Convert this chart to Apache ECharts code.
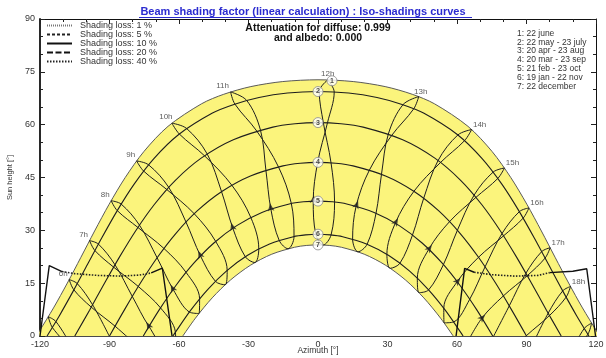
<!DOCTYPE html>
<html>
<head>
<meta charset="utf-8">
<title>Iso-shadings curves</title>
<script src="https://cdn.jsdelivr.net/npm/echarts@6/dist/echarts.min.js"></script>
<style>
  html, body { margin: 0; padding: 0; background: #fff; }
  #chart { width: 606px; height: 358px; }
</style>
</head>
<body>
<div id="chart"></div>
<script>
// axis ticks
const azimuthTicks = [-120, -90, -60, -30, 0, 30, 60, 90, 120]
const heightTicks = [0, 15, 30, 45, 60, 75, 90]

// sun paths [azimuth, height], 1 = 22 june ... 7 = 22 december
const path1 = [[-121.65,0],[-120.42,1.23],[-114.17,7.97],[-108.2,15.03],[-102.34,22.35],[-96.42,29.82],[-90.17,37.39],[-83.26,44.95],[-75.12,52.4],[-64.73,59.53],[-50.29,65.92],[-40.67,68.63],[-28.98,70.81],[-15.2,72.24],[0,72.74],[15.2,72.24],[28.98,70.81],[40.67,68.63],[50.29,65.92],[64.73,59.53],[75.12,52.4],[83.26,44.95],[90.17,37.39],[96.42,29.82],[102.34,22.35],[108.2,15.03],[114.17,7.97],[120.42,1.23],[121.65,0]]
const path2 = [[-116.95,0],[-111.63,5.77],[-105.5,12.95],[-99.47,20.35],[-93.31,27.88],[-86.78,35.46],[-79.51,42.98],[-70.94,50.3],[-60.12,57.2],[-45.56,63.29],[-36.29,65.74],[-25.46,67.7],[-13.18,68.97],[0,69.4],[13.18,68.97],[25.46,67.7],[36.29,65.74],[45.56,63.29],[60.12,57.2],[70.94,50.3],[79.51,42.98],[86.78,35.46],[93.31,27.88],[99.47,20.35],[105.5,12.95],[111.63,5.77],[116.95,0]]
const path3 = [[-104.98,0],[-98.61,7.34],[-92.23,14.89],[-85.65,22.46],[-78.6,29.97],[-70.74,37.27],[-61.57,44.21],[-50.43,50.5],[-36.55,55.73],[-19.49,59.31],[-9.93,60.27],[0,60.59],[9.93,60.27],[19.49,59.31],[36.55,55.73],[50.43,50.5],[61.57,44.21],[70.74,37.27],[78.6,29.97],[85.65,22.46],[92.23,14.89],[98.61,7.34],[104.98,0]]
const path4 = [[-90,0],[-83.44,7.56],[-76.65,15.03],[-69.37,22.28],[-61.31,29.16],[-52.15,35.5],[-41.52,41.03],[-29.17,45.43],[-15.13,48.3],[-7.64,49.05],[0,49.3],[7.64,49.05],[15.13,48.3],[29.17,45.43],[41.52,41.03],[52.15,35.5],[61.31,29.16],[69.37,22.28],[76.65,15.03],[83.44,7.56],[90,0]]
const path5 = [[-75.42,0],[-68.48,7.48],[-61.33,14.34],[-53.51,20.73],[-44.82,26.47],[-35.07,31.34],[-24.22,35.09],[-12.4,37.48],[-6.24,38.1],[0,38.3],[6.24,38.1],[12.4,37.48],[24.22,35.09],[35.07,31.34],[44.82,26.47],[53.51,20.73],[61.33,14.34],[68.48,7.48],[75.42,0]]
const path6 = [[-62.63,0],[-61.74,0.9],[-54.92,7.35],[-47.53,13.27],[-39.44,18.49],[-30.56,22.84],[-20.92,26.13],[-10.64,28.2],[-5.35,28.72],[0,28.9],[5.35,28.72],[10.64,28.2],[20.92,26.13],[30.56,22.84],[39.44,18.49],[47.53,13.27],[54.92,7.35],[61.74,0.9],[62.63,0]]
const path7 = [[-58.35,0],[-52.91,5.07],[-45.68,10.82],[-37.82,15.87],[-29.24,20.06],[-19.97,23.22],[-10.14,25.19],[-5.09,25.7],[0,25.86],[5.09,25.7],[10.14,25.19],[19.97,23.22],[29.24,20.06],[37.82,15.87],[45.68,10.82],[52.91,5.07],[58.35,0]]

// sun position at legal hours 5h..19h for each date
const hours = [5, 6, 7, 8, 9, 10, 11, 12, 13, 14, 15, 16, 17, 18, 19]
const jun = [[-116.41,5.46],[-107.4,16.01],[-98.6,27.08],[-89.29,38.41],[-78.29,49.7],[-63.07,60.43],[-37.73,69.29],[4.17,72.7],[43.47,67.97],[66.32,58.61],[80.48,47.69],[91.05,36.36],[100.2,25.06],[108.99,14.06],[118.1,3.65]]
const jul = [[-114.67,2.42],[-105.38,13.1],[-96.29,24.25],[-86.65,35.6],[-75.27,46.83],[-59.86,57.35],[-35.88,65.85],[0.53,69.4],[36.69,65.68],[60.37,57.08],[75.61,46.54],[86.92,35.31],[96.54,23.95],[105.63,12.8],[114.92,2.14]]
const aug = [[-107.58,-2.88],[-97.88,8.2],[-88.22,19.55],[-77.75,30.82],[-65.29,41.6],[-48.98,51.16],[-26.43,58.18],[2.3,60.58],[30.36,57.34],[51.83,49.82],[67.39,40],[79.45,29.11],[89.73,17.81],[99.35,6.48],[109.12,-4.53]]
const sep = [[-97.44,-8.56],[-87.6,2.79],[-77.56,14.05],[-66.51,24.86],[-53.43,34.71],[-37.19,42.81],[-17.07,48.02],[5.63,49.16],[27.41,45.91],[45.63,39.11],[60.18,30.03],[72.12,19.64],[82.56,8.56],[92.4,-2.79],[102.44,-14.05]]
const oct = [[-87.54,-14.14],[-77.95,-2.87],[-67.98,7.99],[-56.95,18.07],[-44.16,26.85],[-28.99,33.64],[-11.51,37.6],[7.15,38.03],[25.05,34.86],[40.79,28.67],[54.13,20.27],[65.51,10.46],[75.65,-0.26],[85.27,-11.46],[95.1,-22.82]]
const nov = [[-80.11,-20.32],[-71.05,-9.32],[-61.56,1.09],[-51.11,10.54],[-39.21,18.61],[-25.56,24.72],[-10.35,28.24],[5.64,28.7],[21.2,26.05],[35.35,20.65],[47.76,13.1],[58.59,4],[68.31,-6.16],[77.43,-17.02],[86.58,-28.27]]
const dec = [[-79.3,-24.43],[-70.51,-13.46],[-61.37,-3.08],[-51.37,6.39],[-40.09,14.54],[-27.25,20.85],[-12.94,24.77],[2.24,25.83],[17.26,23.9],[31.18,19.22],[43.56,12.31],[54.42,3.73],[64.11,-6.04],[73.09,-16.62],[81.9,-27.72]]
const jan = [[-83.85,-24.94],[-74.78,-13.78],[-65.54,-3.1],[-55.55,6.81],[-44.28,15.52],[-31.37,22.49],[-16.75,27.14],[-0.94,28.9],[14.94,27.5],[29.74,23.17],[42.88,16.42],[54.3,7.9],[64.42,-1.89],[73.72,-12.5],[82.78,-23.62]]
const feb = [[-92.35,-19.73],[-82.67,-8.38],[-72.97,2.72],[-62.55,13.24],[-50.72,22.73],[-36.76,30.6],[-20.36,36.06],[-2.06,38.28],[16.45,36.85],[33.36,32.04],[47.82,24.64],[60.1,15.43],[70.77,5.09],[80.56,-5.91],[90.19,-17.23]]
const mar = [[-99.98,-11.39],[-90.07,-0.08],[-80.16,11.24],[-69.44,22.2],[-56.98,32.35],[-41.63,40.98],[-22.48,47.04],[-0.15,49.3],[22.19,47.11],[41.41,41.09],[56.8,32.48],[69.29,22.35],[80.02,11.39],[89.93,0.08],[99.84,-11.24]]
const apr = [[-106.98,-2.22],[-97.31,8.88],[-87.62,20.22],[-77.08,31.49],[-64.45,42.22],[-47.83,51.68],[-24.84,58.47],[4.09,60.54],[31.85,56.98],[52.91,49.28],[68.2,39.37],[80.1,28.44],[90.32,17.12],[99.92,5.81],[109.72,-5.17]]
const may = [[-113.13,4.11],[-103.92,14.88],[-94.79,26.09],[-84.96,37.45],[-73.14,48.6],[-56.72,58.92],[-30.78,66.88],[7,69.29],[41.35,64.52],[63.25,55.45],[77.62,44.74],[88.55,33.46],[98.02,22.12],[107.1,11.03],[116.49,0.49]]

// far shading obstacle outline
const lossSolid = [
  [[-120,0],[-116,20],[-110.5,18.3]],
  [[-72,17.9],[-67.2,19.3],[-63,0]],
  [[59.6,0],[63.3,19.2],[67.4,18.1]],
  [[100,18],[110,18.4],[116,19.1],[119.8,0]]
]
const lossDotted = [
  [[-110.5,18.3],[-105,17.7],[-95,17.2],[-85,17],[-77,17.3],[-72,17.9]],
  [[67.4,18.1],[75,17.4],[85,17],[95,17.2],[100,18]]
]

const lossNames = ['Shading loss: 1 %', 'Shading loss: 5 %', 'Shading loss: 10 %', 'Shading loss: 20 %', 'Shading loss: 40 %']
const dateNames = ['1: 22 june', '2: 22 may - 23 july', '3: 20 apr - 23 aug', '4: 20 mar - 23 sep', '5: 21 feb - 23 oct', '6: 19 jan - 22 nov', '7: 22 december']

const font = '"Liberation Sans", Arial, sans-serif'
const ink = '#1e1e1e'

const chart = echarts.init(document.getElementById('chart'))

const paths = [path1, path2, path3, path4, path5, path6, path7]
const yearOrder = [jun, jul, aug, sep, oct, nov, dec, jan, feb, mar, apr, may]

// hour line for one hour: loop over the year, cut where the sun stays below the horizon
function hourSegments(i) {
  const pts = yearOrder.map(d => d[i])
  const n = pts.length
  const up = pts.map(p => p[1] > 0)
  const keep = pts.map((p, j) => up[j] || up[(j + n - 1) % n] || up[(j + 1) % n])
  if (keep.every(Boolean)) return [pts.concat([pts[0]])]
  const start = keep.indexOf(false)
  const segs = []
  let cur = []
  for (let s = 1; s <= n; s++) {
    const j = (start + s) % n
    if (keep[j]) cur.push(pts[j])
    else if (cur.length) { segs.push(cur); cur = [] }
  }
  if (cur.length) segs.push(cur)
  return segs
}

const series = []

// yellow band between 22 june and 22 december
series.push({
  type: 'line', data: path1, symbol: 'none', smooth: 0.3, silent: true, z: 1,
  lineStyle: { color: '#5a5a5a', width: 1 }, areaStyle: { color: '#fbf47c', opacity: 1 }
})
series.push({
  type: 'line', data: path7, symbol: 'none', smooth: 0.3, silent: true, z: 2,
  lineStyle: { color: '#5a5a5a', width: 1 }, areaStyle: { color: '#ffffff', opacity: 1 }
})
paths.slice(1, 6).forEach(p => {
  series.push({
    type: 'line', data: p, symbol: 'none', smooth: 0.3, silent: true, z: 3,
    lineStyle: { color: ink, width: 1.1 }
  })
})

hours.forEach((h, i) => {
  hourSegments(i).forEach(seg => {
    series.push({
      type: 'line', data: seg, symbol: 'none', smooth: 0.35, silent: true, z: 3,
      lineStyle: { color: ink, width: 1 }
    })
  })
})

// shading loss curves (also feed the legend)
const lossStyles = [
  { color: '#777', width: 1.2, type: [1, 1] },
  { color: '#222', width: 1.2, type: [3, 2] },
  { color: '#111', width: 1.4, type: 'solid' },
  { color: '#111', width: 1.6, type: [6, 2.5] },
  { color: '#222', width: 1.6, type: [1.5, 1.5] }
]
lossNames.forEach((name, k) => {
  const segs = k === 2 ? lossSolid : k === 4 ? lossDotted : [[]]
  segs.forEach(seg => {
    series.push({
      name, type: 'line', data: seg, symbol: 'none', silent: true, z: 4,
      itemStyle: { color: lossStyles[k].color },
      lineStyle: lossStyles[k]
    })
  })
})

// hour labels next to the 22 june positions
const labelHours = hours.slice(1, 14)
series.push({
  type: 'scatter', symbolSize: 0, silent: true, z: 6,
  data: labelHours.map((h, k) => ({
    value: jun[k + 1],
    label: { offset: h < 11 ? [-6, -6] : h === 11 ? [-8, -6] : h === 12 ? [0, -6] : h === 13 ? [2, -5] : [8, -5] }
  })),
  label: {
    show: true, position: 'inside', fontSize: 8, color: '#333', fontFamily: font,
    formatter: p => labelHours[p.dataIndex] + 'h'
  }
})

// date markers on the noon axis
series.push({
  type: 'scatter', symbol: 'circle', symbolSize: 10, silent: true, z: 7,
  data: paths.map((p, k) => ({
    value: p[(p.length - 1) / 2],
    symbolOffset: k === 0 ? [14, 1] : [0, 0]
  })),
  itemStyle: { color: '#fff', borderColor: '#8a8a8a', borderWidth: 1 },
  label: {
    show: true, position: 'inside', fontSize: 7, fontWeight: 'bold', color: '#222', fontFamily: font,
    formatter: p => String(p.dataIndex + 1)
  }
})

function axisCommon(extra) {
  return Object.assign({
    type: 'value',
    splitLine: { show: false },
    axisLine: { show: true, onZero: false, lineStyle: { color: '#111', width: 1 } },
    axisTick: { show: true, inside: true, length: 5, lineStyle: { color: '#222' } },
    minorTick: { show: true, splitNumber: 3, length: 3, lineStyle: { color: '#222' } },
    axisLabel: { show: false }
  }, extra)
}

const option = {
  animation: false,
  backgroundColor: '#fff',
  textStyle: { fontFamily: font },
  title: [
    {
      text: 'Beam shading factor (linear calculation) : Iso-shadings curves',
      left: 'center', top: 6, padding: 0,
      textStyle: { color: '#2b2bd0', fontSize: 11, fontWeight: 'bold', fontFamily: font }
    },
    {
      text: 'Attenuation for diffuse: 0.999\nand albedo: 0.000',
      left: 318, top: 23, padding: 0, textAlign: 'center',
      textStyle: { color: '#111', fontSize: 10.5, fontWeight: 'bold', lineHeight: 10, fontFamily: font, align: 'center' }
    },
    {
      text: dateNames.join('\n'),
      left: 517, top: 29, padding: 0,
      textStyle: { color: '#333', fontSize: 8.5, fontWeight: 'normal', lineHeight: 8.8, fontFamily: font }
    },
    {
      text: 'Azimuth [°]',
      left: 318, top: 346, padding: 0, textAlign: 'center',
      textStyle: { color: '#333', fontSize: 8.5, fontWeight: 'normal', fontFamily: font }
    }
  ],
  legend: {
    data: lossNames, orient: 'vertical', left: 46, top: 21, padding: 0,
    itemWidth: 25, itemHeight: 9, itemGap: 0, selectedMode: false,
    itemStyle: { opacity: 0, borderWidth: 0 },
    textStyle: { fontSize: 9, color: '#333', lineHeight: 9, fontFamily: font, padding: [0, 0, 0, 3] }
  },
  grid: { left: 40, right: 10, top: 19, bottom: 22, containLabel: false, outerBoundsMode: 'none' },
  xAxis: [
    axisCommon({
      min: azimuthTicks[0], max: azimuthTicks[azimuthTicks.length - 1], interval: azimuthTicks[1] - azimuthTicks[0],
      position: 'bottom',
      axisLine: { show: true, onZero: false, lineStyle: { color: '#111', width: 1.5 } },
      axisLabel: { show: true, fontSize: 9, color: '#333', margin: 4, fontFamily: font }
    }),
    axisCommon({
      min: azimuthTicks[0], max: azimuthTicks[azimuthTicks.length - 1], interval: azimuthTicks[1] - azimuthTicks[0],
      position: 'top'
    })
  ],
  yAxis: [
    axisCommon({
      min: heightTicks[0], max: heightTicks[heightTicks.length - 1], interval: heightTicks[1] - heightTicks[0],
      position: 'left',
      axisLine: { show: true, onZero: false, lineStyle: { color: '#111', width: 1.8 } },
      axisLabel: { show: true, fontSize: 9, color: '#333', margin: 5, fontFamily: font },
      name: 'Sun height [°]', nameLocation: 'middle', nameGap: 20, nameRotate: 90,
      nameTextStyle: { fontSize: 7.5, color: '#333', fontFamily: font }
    }),
    axisCommon({
      min: heightTicks[0], max: heightTicks[heightTicks.length - 1], interval: heightTicks[1] - heightTicks[0],
      position: 'right'
    })
  ],
  graphic: [
    { type: 'line', shape: { x1: 139, y1: 17.5, x2: 472, y2: 17.5 }, style: { stroke: '#2b2bd0', lineWidth: 1 }, silent: true }
  ],
  series
}

chart.setOption(option)

// direction arrows on the hour lines, a little after the 21 feb position
const arrowData = []
hours.forEach((h, i) => {
  if (h < 7 || h > 17) return
  const a = feb[i], b = mar[i]
  const pa = chart.convertToPixel({ xAxisIndex: 0, yAxisIndex: 0 }, a)
  const pb = chart.convertToPixel({ xAxisIndex: 0, yAxisIndex: 0 }, b)
  const dx = pb[0] - pa[0], dy = pb[1] - pa[1]
  const rot = Math.atan2(-dx, -dy) * 180 / Math.PI
  arrowData.push({ value: [a[0] + 0.15 * (b[0] - a[0]), a[1] + 0.15 * (b[1] - a[1])], symbolRotate: rot })
})
option.series.push({
  type: 'scatter', symbol: 'arrow', symbolSize: [5, 8], silent: true, z: 5,
  data: arrowData, itemStyle: { color: '#222' }
})
chart.setOption(option)

window.addEventListener('resize', () => chart.resize())
</script>
</body>
</html>
